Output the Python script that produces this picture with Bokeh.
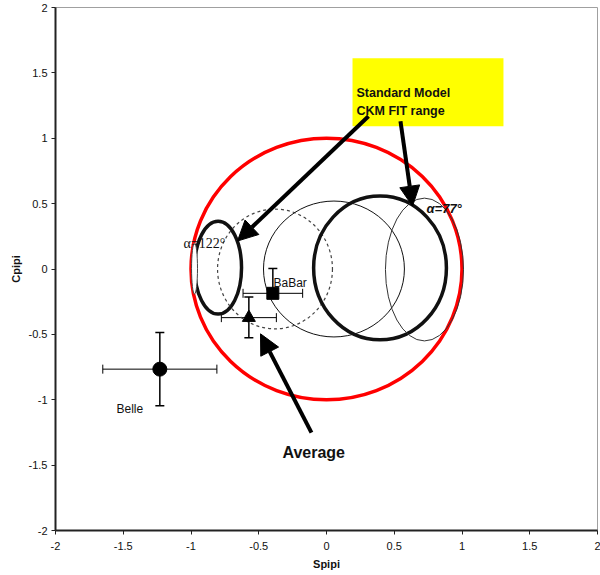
from bokeh.plotting import figure
from bokeh.models import (Range1d, FixedTicker, CustomJSTickFormatter, ColumnDataSource,
                          Whisker, TeeHead, Arrow, NormalHead, BoxAnnotation, Label)
from bokeh.embed import file_html
from bokeh.resources import INLINE

# ---- data ----
ticks = [-2, -1.5, -1, -0.5, 0, 0.5, 1, 1.5, 2]

# constraint contours (centre x, centre y, full width, full height)
ell_names = ["SM range", "alpha=122 thick", "alpha=122 narrow", "dashed", "thin mid", "thick right", "alpha=77"]
ell_x = [0.0, -0.80, -0.974, -0.38, 0.055, 0.395, 0.723]
ell_y = [0.0, 0.01, 0.004, 0.0, 0.0, 0.008, -0.004]
ell_w = [2.0, 0.346, 0.044, 0.848, 1.04, 0.98, 0.576]
ell_h = [2.0, 0.71, 0.39, 0.916, 1.04, 1.10, 1.092]

# measurements
meas_names = ["Belle", "BaBar", "Average"]
meas_x = [-1.230, -0.396, -0.573]
meas_y = [-0.766, -0.186, -0.372]
meas_xerr = [0.421, 0.22, 0.203]
meas_yerr_up = [0.28, 0.19, 0.158]
meas_yerr_dn = [0.28, 0.02, 0.153]

# arrows (start x, start y, end x, end y)
arr_x0 = [0.310, 0.546, -0.111]
arr_y0 = [1.168, 1.130, -1.252]
arr_x1 = [-0.657, 0.635, -0.487]
arr_y1 = [0.214, 0.481, -0.496]

FONT = "Liberation Sans"

p = figure(width=600, height=575, output_backend="svg", toolbar_location=None,
           x_range=Range1d(-2, 2), y_range=Range1d(-2, 2),
           min_border_left=55, min_border_right=3, min_border_top=7, min_border_bottom=45)
p.grid.visible = False
p.background_fill_color = "white"
p.border_fill_color = "white"
p.outline_line_color = "#a0a0a0"
p.outline_line_width = 1

fmt = CustomJSTickFormatter(code="return tick.toString();")
for ax in (p.xaxis[0], p.yaxis[0]):
    ax.ticker = FixedTicker(ticks=ticks)
    ax.formatter = fmt
    ax.axis_line_width = 2
    ax.axis_line_color = "#222222"
    ax.major_tick_in = 0
    ax.major_tick_out = 4
    ax.major_tick_line_color = "#222222"
    ax.minor_tick_line_color = None
    ax.major_label_text_font = FONT
    ax.major_label_text_font_size = "11px"
    ax.major_label_text_color = "#111111"
    ax.axis_label_text_font = FONT
    ax.axis_label_text_font_size = "11px"
    ax.axis_label_text_font_style = "bold"
    ax.axis_label_text_color = "#111111"
p.xaxis.axis_label = "Spipi"
p.yaxis.axis_label = "Cpipi"
p.xaxis.major_label_standoff = 7
p.yaxis.major_label_standoff = 4
p.xaxis.axis_label_standoff = 5
p.yaxis.axis_label_standoff = 4

# yellow box
p.add_layout(BoxAnnotation(left=0.192, right=1.306, bottom=1.092, top=1.611,
                           fill_color="#ffff00", fill_alpha=1.0, line_color=None, level="underlay"))

# ellipses
styles = [
    dict(line_color="#ff0000", line_width=3.5, line_dash="solid", fill=None),
    dict(line_color="#111111", line_width=3.5, line_dash="solid", fill=None),
    dict(line_color="#444444", line_width=1, line_dash="solid", fill="white"),
    dict(line_color="#444444", line_width=1.2, line_dash="3 3", fill=None),
    dict(line_color="#111111", line_width=1, line_dash="solid", fill=None),
    dict(line_color="#111111", line_width=3.5, line_dash="solid", fill=None),
    dict(line_color="#333333", line_width=1, line_dash="solid", fill=None),
]
for i in range(len(ell_x)):
    st = styles[i]
    p.ellipse(x=[ell_x[i]], y=[ell_y[i]], width=[ell_w[i]], height=[ell_h[i]],
              fill_color=st["fill"], line_color=st["line_color"],
              line_width=st["line_width"], line_dash=st["line_dash"])

# error bars
src = ColumnDataSource(dict(
    x=meas_x, y=meas_y,
    xl=[a - b for a, b in zip(meas_x, meas_xerr)],
    xu=[a + b for a, b in zip(meas_x, meas_xerr)],
    yl=[a - b for a, b in zip(meas_y, meas_yerr_dn)],
    yu=[a + b for a, b in zip(meas_y, meas_yerr_up)],
))
wx = Whisker(source=src, base="y", lower="xl", upper="xu", dimension="width",
             line_color="black", line_width=1,
             lower_head=TeeHead(size=9, line_color="black", line_width=1),
             upper_head=TeeHead(size=9, line_color="black", line_width=1))
wy = Whisker(source=src, base="x", lower="yl", upper="yu", dimension="height",
             line_color="black", line_width=1.5,
             lower_head=TeeHead(size=9, line_color="black", line_width=1.5),
             upper_head=TeeHead(size=9, line_color="black", line_width=1.5))
p.add_layout(wx)
p.add_layout(wy)

p.scatter(x=[meas_x[0]], y=[meas_y[0]], marker="circle", size=14, color="black")
p.scatter(x=[meas_x[1]], y=[meas_y[1]], marker="square", size=12, color="black")
p.scatter(x=[meas_x[2]], y=[meas_y[2]], marker="triangle", size=13, color="black")

# arrows
for i in range(len(arr_x0)):
    p.add_layout(Arrow(x_start=arr_x0[i], y_start=arr_y0[i], x_end=arr_x1[i], y_end=arr_y1[i],
                       line_width=4, line_color="black",
                       end=NormalHead(size=20, fill_color="black", line_color="black", line_width=1)))

# labels
def lab(x, y, t, size, style="normal", font=FONT):
    p.add_layout(Label(x=x, y=y, text=t, text_font=font, text_font_size=size,
                       text_font_style=style, text_color="#111111", text_baseline="alphabetic"))

lab(-0.391, -0.107, "BaBar", "12px")
lab(-1.55, -1.069, "Belle", "12px")
lab(-0.325, -1.405, "Average", "16px", "bold")
lab(-1.055, 0.198, "α=122°", "14px", "normal", "Liberation Serif")
lab(0.738, 0.466, "α=77°", "13px", "bold italic")
lab(0.221, 1.344, "Standard Model", "12.5px", "bold")
lab(0.221, 1.206, "CKM FIT range", "12.5px", "bold")

open("out.html", "w").write(file_html(p, INLINE))
